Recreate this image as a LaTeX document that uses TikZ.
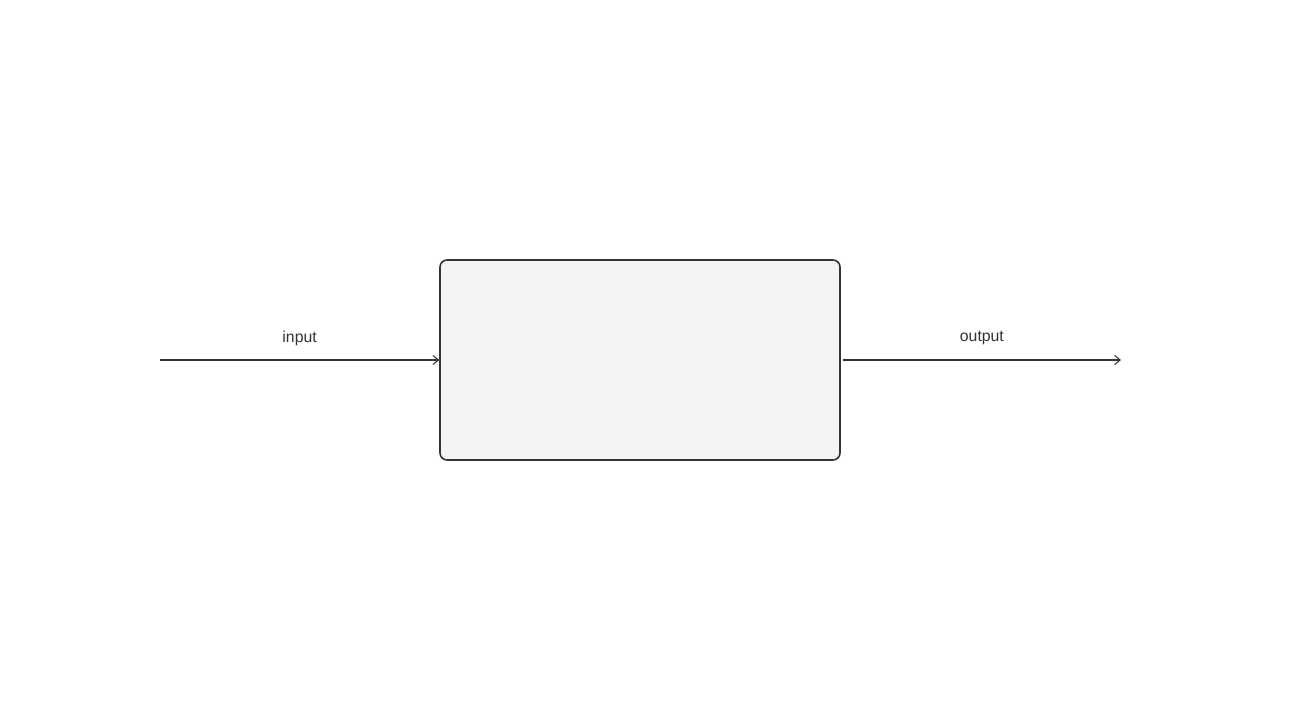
\documentclass[tikz,border=0pt]{standalone}
\usepackage{fontspec}
\setmainfont{Liberation Sans}
\usetikzlibrary{positioning,arrows.meta}
\definecolor{boxfill}{HTML}{F4F4F4}
\definecolor{ink}{HTML}{333333}
\tikzset{
	blockbox/.style={draw=ink, fill=boxfill, line width=0.9pt, rounded corners=4pt,
		minimum width=8cm, minimum height=4cm},
	flow/.style={draw=ink, line width=0.6pt, -{Straight Barb[length=1.1mm,width=1.8mm]}},
	flowlabel/.style={text=ink, font=\fontsize{9}{11}\selectfont, midway, yshift=0.44cm}
}
\begin{document}
\begin{tikzpicture}
		\useasboundingbox (0,0) rectangle (26,-14.18);
		\node[blockbox] (block) at (12.8,-7.2) {};
		\coordinate (in) at (3.2,-7.2);
		\coordinate[right=0.04cm of block.east] (outstart);
		\coordinate (out) at (22.42,-7.2);
		\draw[flow] (in) -- (block.west) node[flowlabel] {input};
		\draw[flow] (outstart) -- (out) node[flowlabel] {output};
	\end{tikzpicture}
\end{document}
